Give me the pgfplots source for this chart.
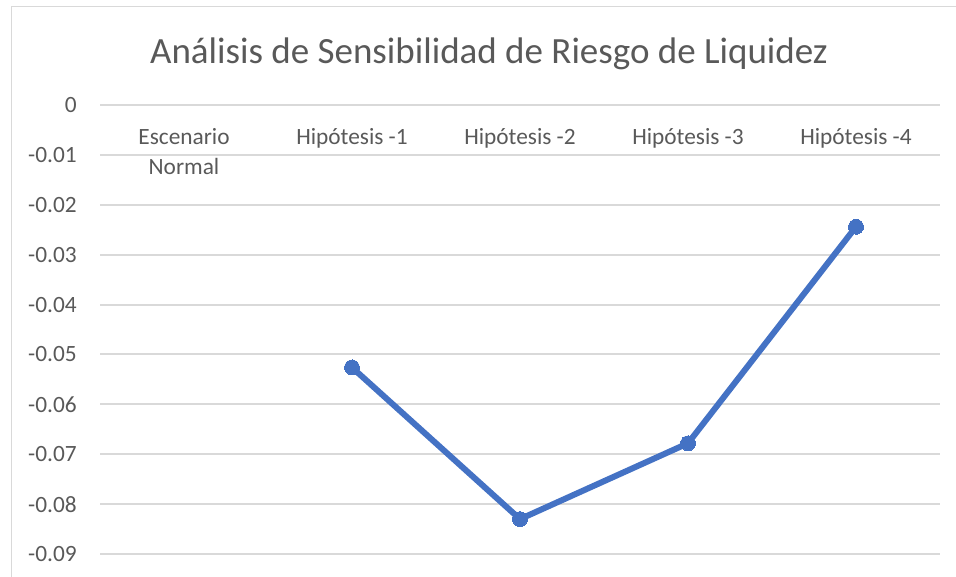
\documentclass[border=0pt]{standalone}
\usepackage{fontspec}
\setmainfont{Carlito}
\usepackage{pgfplots}
\pgfplotsset{compat=1.18}
\definecolor{txt}{HTML}{595959}
\definecolor{gridc}{HTML}{D9D9D9}
\definecolor{ser}{HTML}{4472C4}
\begin{document}
\begin{tikzpicture}[x=0.75pt,y=0.75pt]
\useasboundingbox (0,0) rectangle (956,577);
\draw[gridc, line width=0.75pt] (11,-5) -- (11,570) -- (970,570);
\node[text=txt, font=\fontsize{27.75}{33}\selectfont, anchor=base, inner sep=0pt] at (489,513) {Análisis de Sensibilidad de Riesgo de Liquidez};
\begin{axis}[
  at={(75pt,0pt)}, anchor=south west, scale only axis,
  width=630pt, height=354pt,
  xmin=-0.5, xmax=4.5, ymin=-0.0946, ymax=0,
  axis line style={draw=none},
  major tick length=0pt,
  xtick={0,1,2,3,4},
  xticklabels={{\strut Escenario\\Normal},{\strut Hipótesis -1},{\strut Hipótesis -2},{\strut Hipótesis -3},{\strut Hipótesis -4}},
  xticklabel pos=upper,
  xticklabel style={anchor=north, yshift=-13.5pt, align=center, inner sep=0pt, font=\fontsize{17.5}{22.5}\selectfont, text=txt},
  ytick={-0.09,-0.08,-0.07,-0.06,-0.05,-0.04,-0.03,-0.02,-0.01,0},
  scaled y ticks=false,
  yticklabel style={anchor=east, inner sep=0pt, xshift=-17.25pt, font=\fontsize{17.5}{22.5}\selectfont, text=txt},
  /pgf/number format/assume math mode=true,
  yticklabel={\pgfmathprintnumber[fixed, precision=2]{\tick}},
  ymajorgrids, grid style={gridc, line width=1.5pt},
  clip=false,
]
\addplot[ser, line width=4.5pt, mark=*, mark size=5.6pt, mark options={fill=ser, draw=ser, line width=0pt}] coordinates {(1,-0.0526) (2,-0.0830) (3,-0.0678) (4,-0.0244)};
\end{axis}
\end{tikzpicture}
\end{document}
